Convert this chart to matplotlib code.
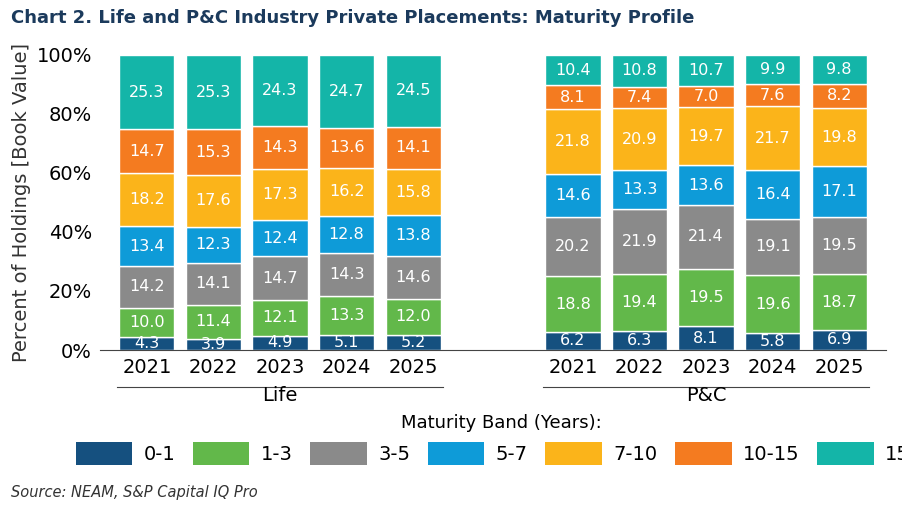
import matplotlib
matplotlib.use("Agg")
import matplotlib.pyplot as plt
from matplotlib.patches import Patch
import numpy as np

years = ["2021", "2022", "2023", "2024", "2025"]
groups = ["Life", "P&C"]
bands = ["0-1", "1-3", "3-5", "5-7", "7-10", "10-15", "15+"]
colors = ["#15507f", "#62b84a", "#8a8a8a", "#0e9bd8", "#fbb41a", "#f47b20", "#14b5a8"]
life = [
    [4.3, 3.9, 4.9, 5.1, 5.2],
    [10.0, 11.4, 12.1, 13.3, 12.0],
    [14.2, 14.1, 14.7, 14.3, 14.6],
    [13.4, 12.3, 12.4, 12.8, 13.8],
    [18.2, 17.6, 17.3, 16.2, 15.8],
    [14.7, 15.3, 14.3, 13.6, 14.1],
    [25.3, 25.3, 24.3, 24.7, 24.5],
]
pc = [
    [6.2, 6.3, 8.1, 5.8, 6.9],
    [18.8, 19.4, 19.5, 19.6, 18.7],
    [20.2, 21.9, 21.4, 19.1, 19.5],
    [14.6, 13.3, 13.6, 16.4, 17.1],
    [21.8, 20.9, 19.7, 21.7, 19.8],
    [8.1, 7.4, 7.0, 7.6, 8.2],
    [10.4, 10.8, 10.7, 9.9, 9.8],
]

fig = plt.figure(figsize=(9.03, 5.11), dpi=100)
ax = fig.add_axes([0.111, 0.315, 0.870, 0.578])
x_life = np.arange(5)
x_pc = np.arange(5) + 6.4
for xs, data in ((x_life, life), (x_pc, pc)):
    tot = np.array([sum(d[i] for d in data) for i in range(5)])
    bottom = np.zeros(5)
    for k, vals in enumerate(data):
        v = np.array(vals) / tot * 100
        ax.bar(xs, v, bottom=bottom, width=0.83, color=colors[k], edgecolor="white", linewidth=1)
        for xi, vi, bi, lab in zip(xs, v, bottom, vals):
            ax.text(xi, bi + vi / 2, f"{lab:.1f}", ha="center", va="center",
                    color="white", fontsize=11.5)
        bottom += v

ax.set_xlim(-0.7, 11.1)
ax.set_ylim(0, 100)
ax.set_yticks(range(0, 101, 20))
ax.set_yticklabels([f"{t}%" for t in range(0, 101, 20)], fontsize=14)
ax.set_xticks(list(x_life) + list(x_pc))
ax.set_xticklabels(years + years, fontsize=14)
ax.tick_params(length=0, pad=6)
for s in ["top", "right", "left"]:
    ax.spines[s].set_visible(False)
ax.spines["bottom"].set_color("#444444")
ax.set_ylabel("Percent of Holdings [Book Value]", fontsize=14, color="#333333")

for xs, g in ((x_life, groups[0]), (x_pc, groups[1])):
    ax.plot([xs[0] - 0.45, xs[-1] + 0.45], [-12.5, -12.5], color="#444444", lw=0.8, clip_on=False)
    ax.text(xs.mean(), -12.3, g, ha="center", va="top", fontsize=14)

fig.text(0.012, 0.965, "Chart 2. Life and P&C Industry Private Placements: Maturity Profile",
         fontsize=13, fontweight="bold", color="#1b3a5c", va="center")
handles = [Patch(facecolor=c) for c in colors]
leg = fig.legend(handles, bands, loc="center", bbox_to_anchor=(0.555, 0.14), ncol=7,
                 frameon=False, fontsize=14, handlelength=2.9, handleheight=1.4,
                 columnspacing=0.9, handletextpad=0.6,
                 title="Maturity Band (Years):", title_fontsize=13)
fig.text(0.012, 0.037, "Source: NEAM, S&P Capital IQ Pro", fontsize=10.5,
         style="italic", color="#333333", va="center")
fig.savefig("out.png", dpi=100)
